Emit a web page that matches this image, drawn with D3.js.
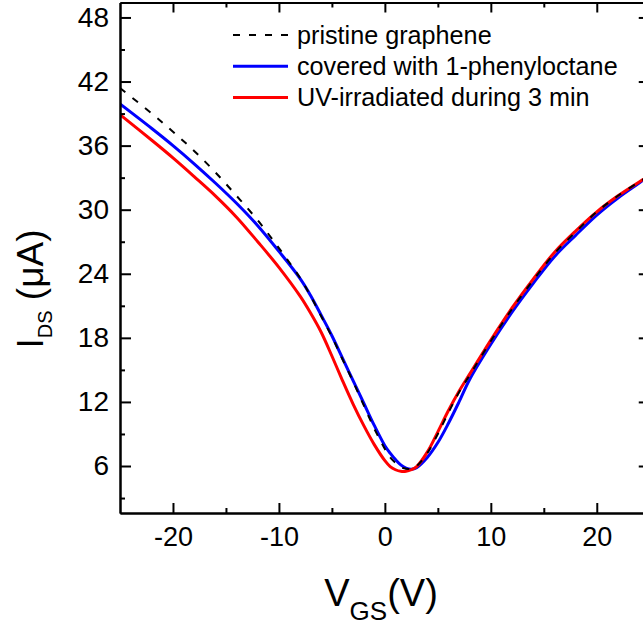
<!DOCTYPE html>
<html>
<head>
<meta charset="utf-8">
<script src="https://cdn.jsdelivr.net/npm/d3@7"></script>
<style>
  html, body { margin: 0; padding: 0; background: #fff; overflow: hidden; }
  svg { display: block; font-family: "Liberation Sans", Arial, sans-serif; }
</style>
</head>
<body>
<svg id="chart" width="643" height="628"></svg>
<script>
// Gate voltage sweep (V)
const vgs = [-25, -22, -20, -18, -16, -14, -12, -10, -8, -7, -6, -5, -4, -3, -2, -1, 0, 0.5, 1, 1.5, 2, 2.5, 3, 4, 5, 6, 7, 8, 10, 12, 14, 16, 18, 20, 22, 24, 25];

// Drain-source current (µA) for each sample
const pristine = [41.4, 39.0, 37.3, 35.5, 33.5, 31.3, 29.0, 26.4, 23.6, 21.9, 20.0, 18.1, 16.0, 13.9, 11.7, 9.5, 7.6, 6.8, 6.3, 5.9, 5.75, 5.75, 6.0, 7.2, 9.0, 11.0, 12.9, 14.5, 17.7, 20.7, 23.4, 25.9, 27.9, 29.8, 31.3, 32.6, 33.2];
const covered  = [39.9, 37.6, 36.0, 34.3, 32.5, 30.6, 28.5, 26.1, 23.55, 21.95, 20.1, 18.2, 16.1, 14.0, 11.9, 9.8, 7.9, 7.2, 6.6, 6.1, 5.8, 5.7, 5.85, 6.8, 8.2, 10.0, 12.0, 14.1, 17.4, 20.4, 23.1, 25.6, 27.6, 29.5, 31.1, 32.5, 33.2];
const uvTreated = [38.9, 36.5, 34.85, 33.1, 31.3, 29.3, 27.0, 24.6, 21.9, 20.3, 18.5, 16.3, 14.0, 11.8, 9.8, 8.0, 6.5, 5.95, 5.65, 5.5, 5.5, 5.65, 5.95, 7.3, 9.2, 11.2, 13.0, 14.6, 17.8, 20.8, 23.5, 26.0, 28.0, 29.8, 31.3, 32.6, 33.2];

const seriesNames = ["pristine graphene", "covered with 1-phenyloctane", "UV-irradiated during 3 min"];

// Axis ticks
const xMajorTicks = [-20, -10, 0, 10, 20];
const xMinorTicks = [-15, -5, 5, 15];
const yMajorTicks = [6, 12, 18, 24, 30, 36, 42, 48];
const yMinorTicks = [3, 9, 15, 21, 27, 33, 39, 45];

const svg = d3.select("#chart");
const plotLeft = 120, plotRight = 649.75, plotTop = 2.5, plotBottom = 513;

const x = d3.scaleLinear().domain([-25, 25]).range([plotLeft, plotRight]);
const y = d3.scaleLinear().domain([1.6, 49.4]).range([plotBottom, plotTop]);

// Curves, clipped to the plot frame
svg.append("defs").append("clipPath").attr("id", "plotClip")
  .append("rect").attr("x", plotLeft).attr("y", plotTop)
  .attr("width", plotRight - plotLeft).attr("height", plotBottom - plotTop);

const line = d3.line().x(d => x(d[0])).y(d => y(d[1])).curve(d3.curveCatmullRom.alpha(0.5));
const pairs = arr => vgs.map((v, i) => [v, arr[i]]);

const plot = svg.append("g").attr("clip-path", "url(#plotClip)");
plot.append("path").attr("d", line(pairs(covered)))
  .attr("fill", "none").attr("stroke", "#0000ff").attr("stroke-width", 3);
plot.append("path").attr("d", line(pairs(uvTreated)))
  .attr("fill", "none").attr("stroke", "#ff0000").attr("stroke-width", 3);
plot.append("path").attr("d", line(pairs(pristine)))
  .attr("fill", "none").attr("stroke", "#000").attr("stroke-width", 2)
  .attr("stroke-dasharray", "7,9");

// Axes: labelled bottom/left, plain top/right, ticks pointing inward
function styleAxis(g) {
  g.selectAll("path, line").attr("stroke", "#000").attr("stroke-width", 2);
  g.selectAll("text").attr("fill", "#000").attr("font-family", "'Liberation Sans', Arial, sans-serif");
}

svg.append("g").attr("transform", `translate(0,${plotBottom})`)
  .call(d3.axisBottom(x).tickValues(xMinorTicks).tickSize(-5).tickSizeOuter(0).tickFormat(""))
  .call(styleAxis);
svg.append("g").attr("transform", `translate(0,${plotBottom})`)
  .call(d3.axisBottom(x).tickValues(xMajorTicks).tickSize(-10).tickSizeOuter(0).tickPadding(14).tickFormat(d3.format("d")))
  .call(styleAxis)
  .call(g => g.selectAll("text").attr("font-size", 27).text(d => d < 0 ? "-" + Math.abs(d) : d));

svg.append("g").attr("transform", `translate(0,${plotTop})`)
  .call(d3.axisTop(x).tickValues(xMinorTicks).tickSize(-5).tickSizeOuter(0).tickFormat(""))
  .call(styleAxis);
svg.append("g").attr("transform", `translate(0,${plotTop})`)
  .call(d3.axisTop(x).tickValues(xMajorTicks).tickSize(-10).tickSizeOuter(0).tickFormat(""))
  .call(styleAxis);

svg.append("g").attr("transform", `translate(${plotLeft},0)`)
  .call(d3.axisLeft(y).tickValues(yMinorTicks).tickSize(-5).tickSizeOuter(0).tickFormat(""))
  .call(styleAxis);
svg.append("g").attr("transform", `translate(${plotLeft},0)`)
  .call(d3.axisLeft(y).tickValues(yMajorTicks).tickSize(-11).tickSizeOuter(0).tickPadding(11))
  .call(styleAxis)
  .call(g => g.selectAll("text").attr("font-size", 28));

svg.append("g").attr("transform", `translate(${plotRight},0)`)
  .call(d3.axisRight(y).tickValues(yMinorTicks).tickSize(-5).tickSizeOuter(0).tickFormat(""))
  .call(styleAxis);
svg.append("g").attr("transform", `translate(${plotRight},0)`)
  .call(d3.axisRight(y).tickValues(yMajorTicks).tickSize(-11).tickSizeOuter(0).tickFormat(""))
  .call(styleAxis);

// Axis titles
const xt = svg.append("text").attr("x", 381).attr("y", 606)
  .attr("text-anchor", "middle").attr("font-size", 38).attr("fill", "#000");
xt.append("tspan").text("V");
xt.append("tspan").attr("font-size", 26).attr("dy", 14).text("GS");
xt.append("tspan").attr("dy", -14).text("(V)");

const yt = svg.append("text").attr("transform", "translate(43,289) rotate(-90)")
  .attr("text-anchor", "middle").attr("font-size", 37).attr("fill", "#000");
yt.append("tspan").text("I");
yt.append("tspan").attr("font-size", 20).attr("dy", 9).text("DS");
yt.append("tspan").attr("dy", -9).text(" (\u03bcA)");

// Legend
const legendItems = [
  { name: seriesNames[0], color: "#000", width: 2, dash: "7,9" },
  { name: seriesNames[1], color: "#0000ff", width: 3, dash: null },
  { name: seriesNames[2], color: "#ff0000", width: 3, dash: null }
];
const legend = svg.append("g");
legendItems.forEach((d, i) => {
  const ly = 35 + i * 31.2;
  legend.append("line").attr("x1", 233).attr("x2", 288).attr("y1", ly).attr("y2", ly)
    .attr("stroke", d.color).attr("stroke-width", d.width)
    .attr("stroke-dasharray", d.dash);
  legend.append("text").attr("x", 297).attr("y", ly + 8.5)
    .attr("font-size", 25.2).attr("fill", "#000").text(d.name);
});
</script>
</body>
</html>
